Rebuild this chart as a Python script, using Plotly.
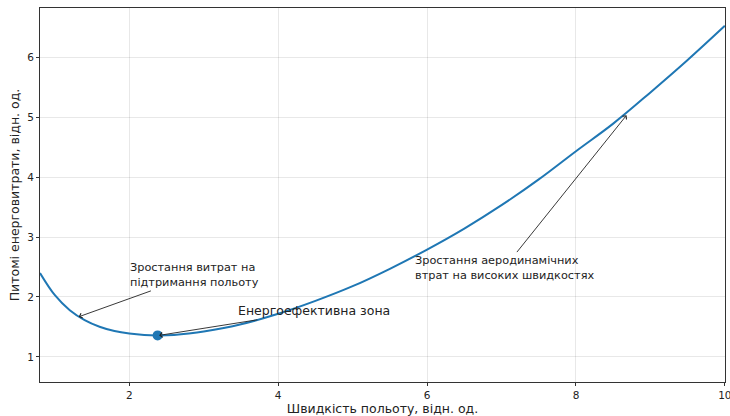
import plotly.graph_objects as go

speed = [0.8, 1.0, 1.2, 1.4, 1.6, 1.8, 2.0, 2.2, 2.4, 2.6, 2.8, 3.0, 3.5, 4.0, 4.5,
         5.0, 5.5, 6.0, 6.5, 7.0, 7.5, 8.0, 8.5, 9.0, 9.5, 10.0]
energy = [2.40, 2.03, 1.78, 1.615, 1.505, 1.433, 1.39, 1.366, 1.36, 1.368, 1.39, 1.423,
          1.545, 1.72, 1.935, 2.18, 2.47, 2.79, 3.14, 3.53, 3.96, 4.43, 4.89, 5.41, 5.95, 6.52]
opt_speed = [2.38]
opt_energy = [1.36]

ann_texts = ["Зростання витрат на<br>підтримання польоту",
             "Енергоефективна зона",
             "Зростання аеродинамічних<br>втрат на високих швидкостях"]
ann_points = [(1.32, 1.67), (2.40, 1.36), (8.68, 5.03)]
ann_text_pos = [(2.87, 2.36), (4.48, 1.77), (7.04, 2.49)]
ann_sizes = [11.3, 12.5, 11.3]

fig = go.Figure()
fig.add_trace(go.Scatter(x=speed, y=energy, mode="lines", line=dict(color="#1f77b4", width=2, shape="spline"),
                         showlegend=False, hoverinfo="skip"))
fig.add_trace(go.Scatter(x=opt_speed, y=opt_energy, mode="markers",
                         marker=dict(color="#1f77b4", size=10), showlegend=False))

for t, (px, py), (tx, ty), fs in zip(ann_texts, ann_points, ann_text_pos, ann_sizes):
    fig.add_annotation(x=px, y=py, ax=tx, ay=ty, xref="x", yref="y", axref="x", ayref="y",
                       text=t, showarrow=True, arrowhead=4, arrowsize=1.1, arrowwidth=0.9,
                       arrowcolor="#222222", align="left",
                       font=dict(family="DejaVu Sans", size=fs, color="#222222"))

axis_common = dict(showline=True, linecolor="#333333", linewidth=1, mirror=True,
                   ticks="outside", ticklen=3, tickcolor="#333333",
                   showgrid=True, gridcolor="rgba(0,0,0,0.09)", gridwidth=1,
                   zeroline=False, automargin=False, ticklabeloverflow="allow",
                   tickfont=dict(family="DejaVu Sans", size=10.5, color="#222222"))

fig.update_xaxes(range=[0.8, 10.002], tickvals=[2, 4, 6, 8, 10],
                 title=dict(text="Швидкість польоту, відн. од.", standoff=4,
                            font=dict(family="DejaVu Sans", size=12.5, color="#222222")),
                 **axis_common)
fig.update_yaxes(range=[0.583, 6.817], tickvals=[1, 2, 3, 4, 5, 6],
                 title=dict(text="Питомі енерговитрати, відн. од.", standoff=4,
                            font=dict(family="DejaVu Sans", size=12.5, color="#222222")),
                 **axis_common)

fig.update_layout(width=730, height=416, margin=dict(l=40, r=5, t=8, b=34, pad=0),
                  plot_bgcolor="white", paper_bgcolor="white")

fig.write_html("out.html", config={"displayModeBar": False},
               post_script="document.body.style.margin='0px';document.body.style.overflow='hidden';")
